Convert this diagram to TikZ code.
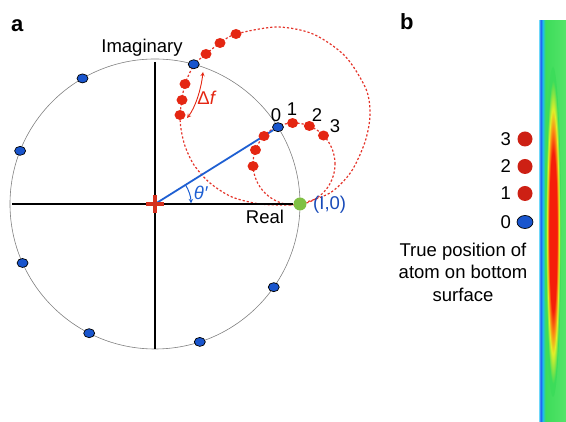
\documentclass[tikz,border=0pt]{standalone}
\usepackage{fontspec}
\setmainfont{Liberation Sans}
\usetikzlibrary{arrows, shapes.geometric}

\definecolor{bleupt}{RGB}{25,85,205}
\definecolor{rougept}{RGB}{228,38,18}
\definecolor{rougeleg}{RGB}{205,32,20}
\definecolor{rougetrait}{RGB}{228,52,42}
\definecolor{rougecroix}{RGB}{212,48,30}
\definecolor{vertpt}{RGB}{128,192,68}
\definecolor{bleutexte}{RGB}{25,75,185}
\definecolor{bleuligne}{RGB}{30,95,210}
% couleurs de la carte
\definecolor{cbCyanL}{RGB}{110,215,250}
\definecolor{cbBlue}{RGB}{30,90,240}
\definecolor{cbCyan}{RGB}{30,190,240}
\definecolor{cbGreen}{RGB}{60,220,90}
\definecolor{cbGreenR}{RGB}{85,228,105}
\definecolor{cbYellow}{RGB}{225,238,40}
\definecolor{cbOrange}{RGB}{250,140,20}
\definecolor{cbRed}{RGB}{245,30,10}

\pgfdeclarehorizontalshading{bande}{100bp}{color(0bp)=(cbCyanL); color(25bp)=(cbCyanL);
  color(28bp)=(cbBlue); color(32bp)=(cbCyan); color(37bp)=(cbGreen);
  color(75bp)=(cbGreenR); color(100bp)=(cbGreenR)}
\pgfdeclareradialshading{fuseau}{\pgfpoint{0bp}{0bp}}{color(0bp)=(cbRed); color(12bp)=(cbRed);
  color(15.5bp)=(cbOrange); color(18.5bp)=(cbYellow); color(23bp)=(cbGreen); color(50bp)=(cbGreen)}

\tikzset{
  bdot/.style={ellipse, draw=black, line width=0.7pt, fill=bleupt, minimum width=11pt, minimum height=9pt, inner sep=0pt},
  rdot/.style={ellipse, fill=rougept, minimum width=11pt, minimum height=10pt, inner sep=0pt},
  trajet/.style={rougetrait, line width=1.2pt, dash pattern=on 2.2pt off 2pt},
  axe/.style={black, line width=1.8pt},
  lbl/.style={inner sep=0pt, font=\fontsize{18.5}{22.5}\selectfont},
}

\begin{document}
\begin{tikzpicture}[x=1pt, y=1pt]
        \useasboundingbox (0,0) rectangle (566,422);

        % Trajectoires (pointillés)
        \draw[trajet] (294,258) circle (41);
        \draw[trajet] plot[smooth] coordinates {(300,218) (330,229) (351,250) (365,280) (370,307)
          (366,333) (345,366) (313,388) (277,395) (236,388) (220,379) (206,368) (194,357)
          (185,338) (182,322) (180,307) (181,293) (185,276) (194,257) (210,239) (232,225)
          (260,218) (290,217) (300,218)};

        \begin{scope}[shift={(155,218)}]
            \coordinate (O) at (0,0);
            % Cercle et axes
            \draw[gray, line width=0.6pt] (O) circle (145);
            \coordinate (W) at (-143,0);
            \coordinate (N) at (0,142);
            \coordinate (S) at (0,-145);
            \node[circle, fill=vertpt, minimum size=13pt, inner sep=0pt] (G) at (145,0) {};
            \draw[axe] (W) -- (G.west);
            \draw[axe] (N) -- (S);
            % Phaseur
            \node[bdot] (p0) at (32:145) {};
            \draw[bleuligne, line width=1.8pt] (O) -- (p0);
            \coordinate (t1) at (32:36);
            \draw[bleuligne, line width=1pt, -stealth] (t1) arc[start angle=32, end angle=1, radius=36];
            \foreach \ang [count=\i] in {74.5,120,158.5,204,243,288,325}
                \node[bdot] (p\i) at (\ang:145) {};
            % Croix
            \draw[rougecroix, line width=3.5pt] (-9,0) -- (9,0);
            \draw[rougecroix, line width=3.5pt] (0,-9) -- (0,9);
        \end{scope}

        % Points rouges
        \foreach \ang [count=\i] in {92,68,44,137,160,183}
            \node[rdot] (s\i) at ([shift={(\ang:41)}]294,258) {};
        \foreach \x/\y [count=\i] in {206/368, 220/379, 236/388, 185/338, 182/322, 180/307}
            \node[rdot] (q\i) at (\x,\y) {};

        % Delta f
        \coordinate (df1) at (203,350);
        \coordinate (df2) at (187,304);
        \draw[rougept, line width=0.9pt, stealth-stealth] (df1) .. controls (201,332) and (195,314) .. (df2);
        \node[lbl, text=rougept] (df) at (207,324) {Δ\textit{f}};

        % Etiquettes
        \node[lbl, anchor=base] (im) at (142,369) {Imaginary};
        \node[lbl, anchor=base] (re) at (265,198) {Real};
        \node[lbl, anchor=west, text=bleutexte] (I0) at (313,217) {(I,0)};
        \node[lbl, text=bleuligne] (th) at (201,229) {\textit{θ′}};
        \node[lbl] (n0) at (276,307) {0};
        \node[lbl] (n1) at (292,312.5) {1};
        \node[lbl] (n2) at (317,307) {2};
        \node[lbl] (n3) at (335,296) {3};

        \node[inner sep=0pt, anchor=base west, font=\bfseries\fontsize{22}{26}\selectfont] (pa) at (11,390) {a};
        \node[inner sep=0pt, anchor=base west, font=\bfseries\fontsize{22}{26}\selectfont] (pb) at (400,392) {b};

        % Légende
        \foreach \y/\n in {283/3, 255.5/2, 228.5/1}{
            \node[lbl, anchor=east] (l\n) at (511,\y) {\n};
            \node[circle, fill=rougeleg, minimum size=15pt, inner sep=0pt] (d\n) at (525,\y) {};
        }
        \node[lbl, anchor=east] (l0) at (511,200) {0};
        \node[ellipse, draw=black, line width=0.7pt, fill=bleupt, minimum width=16pt, minimum height=13pt, inner sep=0pt] (d0) at (525,200) {};
        \node[lbl, align=center] (txt) at (463,150) {True position of\\atom on bottom\\surface};

        % Carte de couleur
        \shade[shading=bande] (539,0) rectangle (566,401);
        \begin{scope}
            \clip (539,0) rectangle (566,401);
            \shade[shading=fuseau] (553,190) ellipse (8 and 165);
        \end{scope}
    \end{tikzpicture}
\end{document}
